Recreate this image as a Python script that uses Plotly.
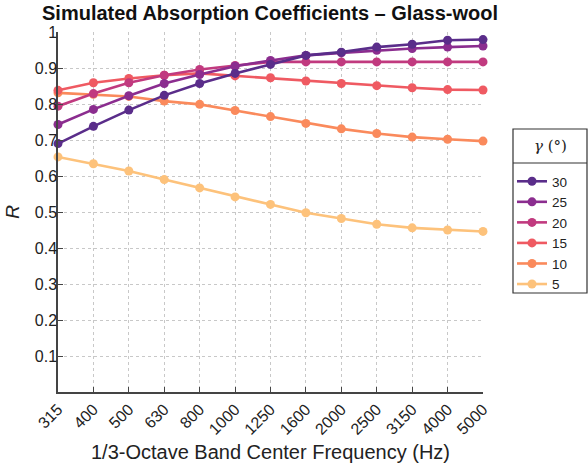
import plotly.graph_objects as go

freqs = ["315", "400", "500", "630", "800", "1000", "1250", "1600", "2000", "2500", "3150", "4000", "5000"]
angles = ["30", "25", "20", "15", "10", "5"]
r30 = [0.690, 0.738, 0.783, 0.824, 0.857, 0.885, 0.910, 0.935, 0.944, 0.958, 0.966, 0.977, 0.979]
r25 = [0.743, 0.785, 0.823, 0.857, 0.882, 0.905, 0.921, 0.935, 0.942, 0.949, 0.954, 0.958, 0.961]
r20 = [0.794, 0.829, 0.859, 0.880, 0.896, 0.907, 0.917, 0.917, 0.917, 0.917, 0.917, 0.917, 0.917]
r15 = [0.838, 0.859, 0.871, 0.880, 0.885, 0.878, 0.873, 0.864, 0.857, 0.851, 0.845, 0.840, 0.839]
r10 = [0.831, 0.827, 0.821, 0.808, 0.799, 0.782, 0.765, 0.746, 0.731, 0.718, 0.708, 0.702, 0.697]
r5 = [0.653, 0.634, 0.614, 0.590, 0.567, 0.542, 0.521, 0.498, 0.482, 0.466, 0.456, 0.450, 0.446]
series = [r30, r25, r20, r15, r10, r5]
colors = ["#5a2d8a", "#8b2d8f", "#c13a7f", "#ef5a62", "#fa8a5c", "#fdc27b"]

yticks = [0.1, 0.2, 0.3, 0.4, 0.5, 0.6, 0.7, 0.8, 0.9, 1.0]
ytext = ["0.1", "0.2", "0.3", "0.4", "0.5", "0.6", "0.7", "0.8", "0.9", "1"]

FONT = "Liberation Sans, Arial, Helvetica, sans-serif"
idx = list(range(len(freqs)))

fig = go.Figure()
for name, vals, col in reversed(list(zip(angles, series, colors))):
    fig.add_trace(go.Scatter(
        x=idx, y=vals, name=name, mode="lines+markers",
        line=dict(color=col, width=2.6),
        marker=dict(color=col, size=9, symbol="circle"),
        cliponaxis=False,
    ))

# legend geometry in pixels -> paper
L, R, T, B = 58, 483, 32, 392
W, H = R - L, B - T
def px(x):
    return (x - L) / W
def py(y):
    return (B - y) / H

fig.add_shape(type="rect", xref="paper", yref="paper",
              x0=px(513), x1=px(587), y0=py(293), y1=py(129),
              line=dict(color="#333333", width=1.2), fillcolor="rgba(0,0,0,0)")
fig.add_shape(type="line", xref="paper", yref="paper",
              x0=px(513), x1=px(587), y0=py(163), y1=py(163),
              line=dict(color="#333333", width=1.2))
fig.add_annotation(xref="paper", yref="paper", x=px(550), y=py(146),
                   xanchor="center", yanchor="middle",
                   text="<i>γ</i> (°)", showarrow=False,
                   font=dict(family="DejaVu Serif, serif", size=15, color="#222222"))

fig.update_layout(
    width=588, height=463,
    margin=dict(l=L, r=588 - R, t=T, b=463 - B, autoexpand=False),
    paper_bgcolor="white", plot_bgcolor="white",
    title=dict(text="<b>Simulated Absorption Coefficients – Glass-wool</b>",
               x=270 / 588, xanchor="center", y=1 - 13 / 463, yanchor="middle",
               font=dict(family=FONT, size=20, color="#111111")),
    font=dict(family=FONT, size=15, color="#222222"),
    showlegend=True,
    legend=dict(x=px(512), y=py(166), xanchor="left", yanchor="top",
                traceorder="reversed", bgcolor="rgba(0,0,0,0)",
                font=dict(size=13.5, family=FONT, color="#222222"),
                itemwidth=30, tracegroupgap=0),
    xaxis=dict(range=[0, 12], tickmode="array", tickvals=idx, ticktext=freqs,
               tickangle=-45, ticks="inside", ticklen=5, tickcolor="#444444",
               showline=True, linecolor="#444444", linewidth=1.5,
               showgrid=True, gridcolor="#c8c8c8", griddash="dot", gridwidth=1,
               zeroline=False, automargin=False,
               title=dict(text="1/3-Octave Band Center Frequency (Hz)",
                          font=dict(size=20, family=FONT, color="#222222"), standoff=10),
               tickfont=dict(size=16, family=FONT, color="#222222")),
    yaxis=dict(range=[0, 1], tickmode="array", tickvals=yticks, ticktext=ytext,
               ticks="inside", ticklen=5, tickcolor="#444444", ticklabelstandoff=-4,
               showline=True, linecolor="#444444", linewidth=1.5,
               showgrid=True, gridcolor="#c8c8c8", griddash="dot", gridwidth=1,
               zeroline=False, automargin=False,
               title=dict(text="<i>R</i>", font=dict(size=19, family=FONT, color="#222222"), standoff=10),
               tickfont=dict(size=16, family=FONT, color="#222222")),
)

fig.write_html("out.html", config={"displayModeBar": False},
               post_script="document.body.style.margin='0';document.body.style.overflow='hidden';")
